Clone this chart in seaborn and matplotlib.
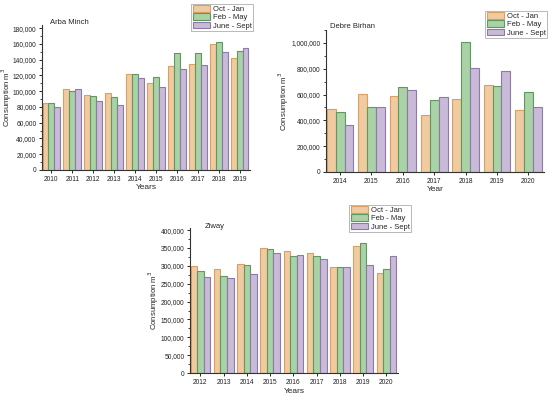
import matplotlib
matplotlib.use("Agg")
import matplotlib.pyplot as plt
import numpy as np
import pandas as pd
import seaborn as sns
from matplotlib.ticker import FuncFormatter, AutoMinorLocator

sns.set_style("white")
plt.rcParams['font.family'] = ['Liberation Sans', 'DejaVu Sans']

periods = ['Oct - Jan', 'Feb - May', 'June - Sept']
colors = ['#FDCB93', '#A3D9A0', '#C9B6DC']
edges = ['#D9A060', '#5E9A5E', '#8E7AA8']

# Arba Minch
am_years = [2010, 2011, 2012, 2013, 2014, 2015, 2016, 2017, 2018, 2019]
am_oct = [85000, 103000, 95000, 98000, 122000, 111000, 132000, 134000, 160000, 142000]
am_feb = [85000, 100000, 94000, 93000, 122000, 118000, 148000, 148000, 163000, 151000]
am_jun = [80000, 103000, 87000, 82000, 117000, 105000, 128000, 133000, 150000, 155000]

# Debre Birhan
db_years = [2014, 2015, 2016, 2017, 2018, 2019, 2020]
db_oct = [490000, 605000, 590000, 445000, 565000, 675000, 480000]
db_feb = [465000, 505000, 660000, 560000, 1010000, 670000, 620000]
db_jun = [365000, 505000, 635000, 580000, 805000, 780000, 505000]

# Ziway
zw_years = [2012, 2013, 2014, 2015, 2016, 2017, 2018, 2019, 2020]
zw_oct = [300000, 292000, 306000, 349000, 341000, 336000, 297000, 357000, 281000]
zw_feb = [287000, 273000, 303000, 346000, 327000, 328000, 297000, 363000, 292000]
zw_jun = [270000, 266000, 276000, 335000, 331000, 320000, 297000, 303000, 329000]


def to_long(years, a, b, c):
    df = pd.DataFrame({'year': [str(y) for y in years],
                       periods[0]: a, periods[1]: b, periods[2]: c})
    return df.melt(id_vars='year', var_name='period', value_name='value')


W, H = 550, 398
fig = plt.figure(figsize=(W / 100, H / 100), dpi=100)


def panel(box, df, ylim, step, name, name_xy, xlabel, ylab_x, xlab_y, leg_box):
    l, r, t, b = box
    ax = fig.add_axes([l / W, 1 - b / H, (r - l) / W, (b - t) / H])
    sns.barplot(data=df, x='year', y='value', hue='period', palette=colors,
                width=0.85, linewidth=0.8, ax=ax, legend=True)
    for cont, ec in zip(ax.containers, edges):
        for p in cont.patches:
            p.set_edgecolor(ec)
    n = df['year'].nunique()
    ax.set_xlim(-0.45, n - 0.5)
    ax.set_ylim(0, ylim)
    ax.set_yticks(np.arange(0, ylim + 1, step))
    ax.yaxis.set_minor_locator(AutoMinorLocator(2))
    ax.yaxis.set_major_formatter(FuncFormatter(lambda v, p: f'{int(v):,}'))
    for s in ['top', 'right']:
        ax.spines[s].set_visible(False)
    for s in ['left', 'bottom']:
        ax.spines[s].set_color('#333333')
        ax.spines[s].set_linewidth(0.8)
    ax.tick_params(axis='both', which='major', direction='out', length=2.5,
                   width=0.7, labelsize=4.8, pad=1.5, left=True, bottom=True,
                   labelcolor='#222222')
    ax.tick_params(axis='y', which='minor', direction='out', length=1.3,
                   width=0.6, left=True)
    ax.set_xlabel(xlabel, fontsize=6)
    ax.set_ylabel('Consumption m$^3$', fontsize=5.6)
    # label positions, from pixel centres in the reference
    ax.yaxis.set_label_coords((ylab_x + 4 - l) / (r - l), 0.5)
    ax.xaxis.set_label_coords(0.5, -(xlab_y - 4 - b) / (b - t))
    fig.text(name_xy[0] / W, 1 - name_xy[1] / H, name, fontsize=5.5,
             va='center', ha='left')
    leg = ax.legend(loc='upper right', bbox_to_anchor=(leg_box[0] / W, 1 - leg_box[1] / H),
                    bbox_transform=fig.transFigure, fontsize=5.5, frameon=True,
                    fancybox=False, edgecolor='#999999', borderpad=0.15,
                    labelspacing=0.05, handlelength=2.3, handleheight=0.95,
                    handletextpad=0.35, borderaxespad=0)
    leg.get_frame().set_linewidth(0.6)
    for h, ec in zip(leg.legend_handles, edges):
        h.set_edgecolor(ec)
    return ax


panel((42, 250, 25, 170), to_long(am_years, am_oct, am_feb, am_jun), 184000, 20000,
      'Arba Minch', (50, 23), 'Years', 10, 188, (253, 4))
panel((326, 544, 30, 172), to_long(db_years, db_oct, db_feb, db_jun), 1100000, 200000,
      'Debre Birhan', (330, 26), 'Year', 287, 190, (547, 11))
panel((190, 398, 228, 373), to_long(zw_years, zw_oct, zw_feb, zw_jun), 406000, 50000,
      'Ziway', (205, 227), 'Years', 157, 392, (411, 205))

fig.savefig('out.png', dpi=100)
